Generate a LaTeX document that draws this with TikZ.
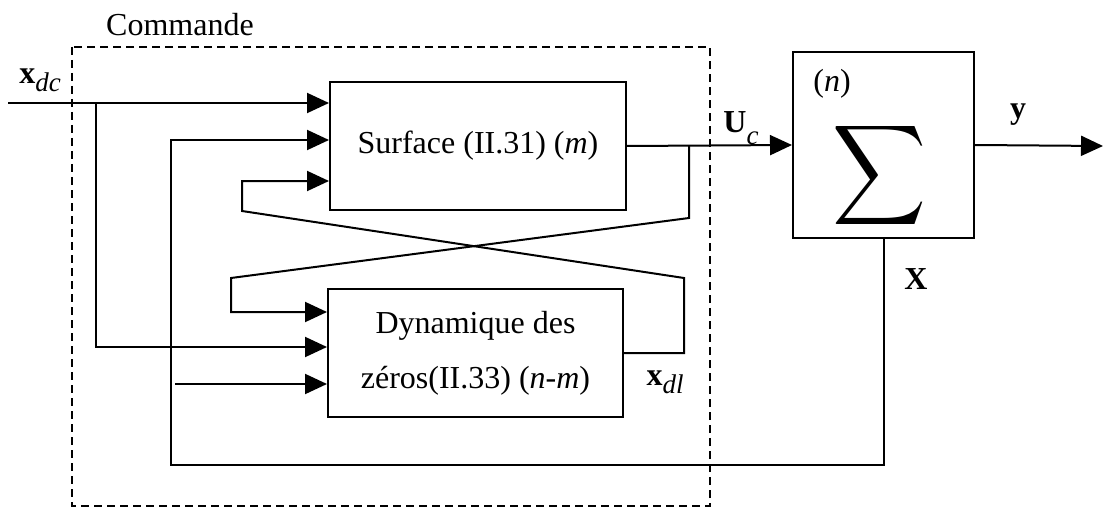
\documentclass[tikz,border=0pt]{standalone}
\usepackage{fontspec}
\setmainfont{Liberation Serif}
\usepackage{graphicx}
\usetikzlibrary{arrows.meta}
\newcommand\mysub[2][4pt]{\raisebox{-#1}{\fontsize{13.5}{14}\selectfont\itshape #2}}
\tikzset{
  blk/.style={draw, line width=1pt, rectangle, inner sep=0pt, align=center},
  ln/.style={line width=1pt},
  arr/.style={line width=1pt, -{Triangle[length=11pt,width=10pt]}},
  lbl/.style={inner sep=0pt},
}
\begin{document}
\begin{tikzpicture}[x=0.5pt,y=-0.5pt,font=\fontsize{16}{20}\selectfont]
\useasboundingbox (0,0) rectangle (1103,508);
% dashed control box
\draw[line width=1pt, dash pattern=on 4pt off 2.5pt] (72,47) rectangle (710,506);
\node[lbl] (cmd) at (180,25) {Commande};
% blocks
\node[blk, minimum width=148pt, minimum height=64pt] (surf) at (478,146) {Surface (II.31) (\textit{m})};
\node[blk, minimum width=147.5pt, minimum height=64pt, font=\fontsize{16}{27.5}\selectfont] (dyn) at (475.5,353) {Dynamique des\\z\'eros(II.33) (\textit{n-m})};
\node[blk, minimum width=90.5pt, minimum height=93pt] (sig) at (883.5,145) {};
\node[lbl] (sum) at (880,176) {\resizebox*{47pt}{56pt}{$\displaystyle\sum$}};
\node[lbl] (nn) at (832,84) {(\textit{n})};
% coordinates
\coordinate (xin) at (8,103);
\coordinate (b1) at (96,103);
\coordinate (b1d) at (96,347);
\coordinate (fbL) at (171,465);
\coordinate (in2) at (171,140);
\coordinate (s1) at (689,146);
\coordinate (s1d) at (689,218);
\coordinate (s1l) at (231,278);
\coordinate (s1e) at (231,312);
\coordinate (d1) at (684,353);
\coordinate (d1u) at (684,278);
\coordinate (d1l) at (242,211);
\coordinate (d1e) at (242,181);
\coordinate (fr) at (175,384);
\coordinate (yout) at (1103,146);
% connectors
\draw[arr] (xin) -- (surf.west |- xin);
\draw[arr] (b1) -- (b1d) -- (dyn.west |- b1d);
\draw[arr] (sig.south) |- (fbL) -- (in2) -- (surf.west |- in2);
\draw[arr] (surf.east) -- (sig.west);
\draw[arr] (s1) -- (s1d) -- (s1l) -- (s1e) -- (dyn.west |- s1e);
\draw[arr] (dyn.east) -- (d1) -- (d1u) -- (d1l) -- (d1e) -- (surf.west |- d1e);
\draw[arr] (fr) -- (dyn.west |- fr);
\draw[arr] (sig.east) -- (yout);
% labels
\node[lbl] (lxdc) at (40,80) {\textbf{x}\mysub{dc}};
\node[lbl] (luc) at (741,128) {\textbf{U}\mysub[6pt]{c}};
\node[lbl] (ly) at (1018,115) {\textbf{y}};
\node[lbl] (lX) at (916,279) {\textbf{X}};
\node[lbl] (lxdl) at (665,382) {\textbf{x}\mysub{dl}};
\end{tikzpicture}
\end{document}
